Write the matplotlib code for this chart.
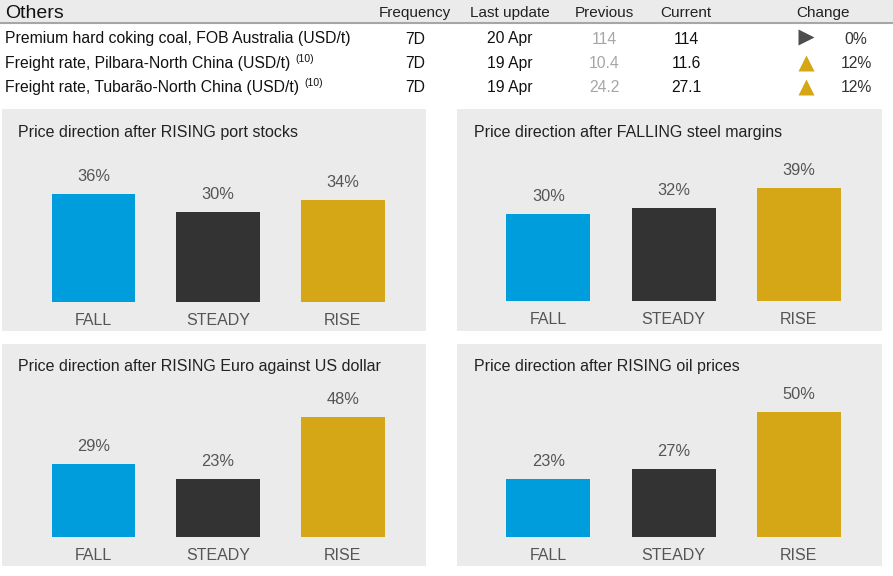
import matplotlib
matplotlib.use("Agg")
import matplotlib.pyplot as plt
from matplotlib.patches import Rectangle

plt.rcParams['font.family'] = ['Liberation Sans', 'DejaVu Sans']

# ---------------- data ----------------
table_title = "Others"
columns = ["Frequency", "Last update", "Previous", "Current", "Change"]
row_labels = ["Premium hard coking coal, FOB Australia (USD/t)",
              "Freight rate, Pilbara-North China (USD/t)",
              "Freight rate, Tubarão-North China (USD/t)"]
row_notes = ["", "(10)", "(10)"]
frequency = ["7D", "7D", "7D"]
last_update = ["20 Apr", "19 Apr", "19 Apr"]
previous = ["114", "10.4", "24.2"]
current = ["114", "11.6", "27.1"]
change = ["0%", "12%", "12%"]
change_dir = ["flat", "up", "up"]

categories = ["FALL", "STEADY", "RISE"]
panel_titles = ["Price direction after RISING port stocks",
                "Price direction after FALLING steel margins",
                "Price direction after RISING Euro against US dollar",
                "Price direction after RISING oil prices"]
panel_values = [[36, 30, 34],
                [30, 32, 39],
                [29, 23, 48],
                [23, 27, 50]]
panel_ymax = [40, 41.3, 50, 50]

bar_colors = ["#009ddc", "#333333", "#d5a717"]
W, H = 893, 576

fig = plt.figure(figsize=(W / 100, H / 100), dpi=100)
fig.patch.set_facecolor("white")


def fx(x):
    return x / W


def fy(y):
    return 1 - y / H


# overlay axes in pixel coordinates for the table
ov = fig.add_axes([0, 0, 1, 1])
ov.set_xlim(0, W)
ov.set_ylim(H, 0)
ov.axis("off")
ov.set_zorder(-1)

# header band
ov.add_patch(Rectangle((0, 0), W, 22.5, facecolor="#ebebeb", edgecolor="none"))
ov.plot([0, W], [23, 23], color="#a6a6a6", lw=1.5)
ov.text(5, 13, table_title, fontsize=14, color="#111111", va="center", ha="left")
col_x = [415, 510, 604, 686, 823]
for cx, c in zip(col_x, columns):
    ov.text(cx, 13, c, fontsize=11, color="#222222", va="center", ha="center")

row_y = [39, 63.5, 87.5]
for i in range(3):
    y = row_y[i]
    t = ov.text(5, y, row_labels[i], fontsize=11.3, color="#111111", va="center", ha="left")
    if row_notes[i]:
        fig.canvas.draw()
        bb = t.get_window_extent()
        ov.text(bb.x1 + 5, y - 4.5, row_notes[i], fontsize=7.5, color="#111111",
                va="center", ha="left")
    ov.text(col_x[0], y, frequency[i], fontsize=11.3, color="#111111", va="center", ha="center")
    ov.text(col_x[1], y, last_update[i], fontsize=11.3, color="#111111", va="center", ha="center")
    ov.text(col_x[2], y, previous[i], fontsize=11.3, color="#a6a6a6", va="center", ha="center")
    ov.text(col_x[3], y, current[i], fontsize=11.3, color="#111111", va="center", ha="center")
    if change_dir[i] == "flat":
        ov.plot([805.5], [y - 2], marker=">", ms=12, color="#4d4d4d", mec="none")
    else:
        ov.plot([805.5], [y - 1], marker="^", ms=12, color="#d5a717", mec="none")
    ov.text(856, y, change[i], fontsize=11.3, color="#333333", va="center", ha="center")

# ---------------- panels ----------------
panel_bg = [(2, 109, 426, 331), (457, 109, 882, 331),
            (2, 344, 426, 566), (457, 344, 882, 566)]
axes_px = [(31, 301.7, 405.2, 120), (485.8, 301, 861.5, 120),
           (31, 536.7, 405.2, 125), (485.8, 536.7, 861.5, 125)]
title_pos = [(18, 132), (474, 132), (18, 367), (474, 367)]

for k in range(4):
    x0, y0, x1, y1 = panel_bg[k]
    fig.patches.append(Rectangle((fx(x0), fy(y1)), fx(x1) - fx(x0), fy(y0) - fy(y1),
                                 transform=fig.transFigure, facecolor="#ebebeb",
                                 edgecolor="none", zorder=-5))
    fig.text(fx(title_pos[k][0]), fy(title_pos[k][1]), panel_titles[k], fontsize=11.5,
             color="#222222", ha="left", va="center")
    l, b, r, h = axes_px[k]
    ax = fig.add_axes([fx(l), fy(b), fx(r) - fx(l), h / H])
    ax.patch.set_alpha(0)
    xs = list(range(len(categories)))
    ax.bar(xs, panel_values[k], width=0.67, color=bar_colors, clip_on=False)
    ax.set_xlim(-0.5, 2.5)
    ax.set_ylim(0, panel_ymax[k])
    for xi, v in zip(xs, panel_values[k]):
        ax.annotate(f"{v}%", (xi, v), xytext=(0, 12.5), textcoords="offset points",
                    ha="center", va="center", fontsize=11.8, color="#555555")
    ax.set_xticks(xs)
    ax.set_xticklabels(categories, fontsize=11.5, color="#555555", va="center")
    ax.tick_params(axis="x", length=0, pad=13.3)
    ax.set_yticks([])
    for s in ax.spines.values():
        s.set_visible(False)

fig.savefig("out.png", dpi=100)
